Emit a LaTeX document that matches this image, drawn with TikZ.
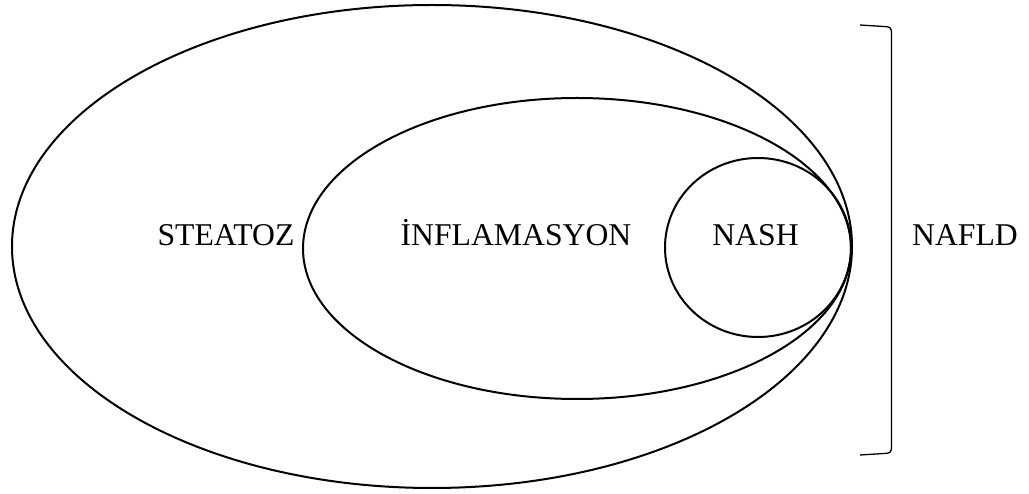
\documentclass[tikz,border=0pt]{standalone}
\usepackage{fontspec}
\setmainfont{Liberation Serif}
\usetikzlibrary{shapes.geometric, positioning}

\begin{document}
\begin{tikzpicture}[
    x=1pt, y=-1pt,
    font=\fontsize{31.7}{38}\selectfont,
    ring/.style ={draw, ellipse, line width=2pt, inner sep=0pt},
    lbl/.style  ={anchor=base, inner sep=0pt},
    brack/.style={draw, line width=1.3pt, rounded corners=4pt}
  ]
  \useasboundingbox (0,0) rectangle (1029,494);

  % ---- nested sets ------------------------------------------------------
  \node[ring, minimum width=840pt, minimum height=483pt] (steatoz) at (432,246.5) {};
  \node[ring, minimum width=548pt, minimum height=301pt] (inflam)  at (577,248.5) {};
  \node[ring, minimum width=186pt, minimum height=179pt] (nash)    at (758,247.5) {};

  % ---- labels -----------------------------------------------------------
  \node[lbl] (steatozlbl) at (226,246) {STEATOZ};
  \node[lbl] (inflamlbl)  at (516,246) {İNFLAMASYON};
  \node[lbl] (nashlbl)    at (755.5,246) {NASH};

  % ---- bracket + NAFLD --------------------------------------------------
  \coordinate (brTop)    at (860,25);
  \coordinate (brTopR)   at (891.5,27);
  \coordinate (brBotR)   at (891.5,453);
  \coordinate (brBot)    at (860,455);
  \draw[brack] (brTop) -- (brTopR) -- (brBotR) -- (brBot);
  \node[lbl] (nafld) at (965,246) {NAFLD};

\end{tikzpicture}
\end{document}
